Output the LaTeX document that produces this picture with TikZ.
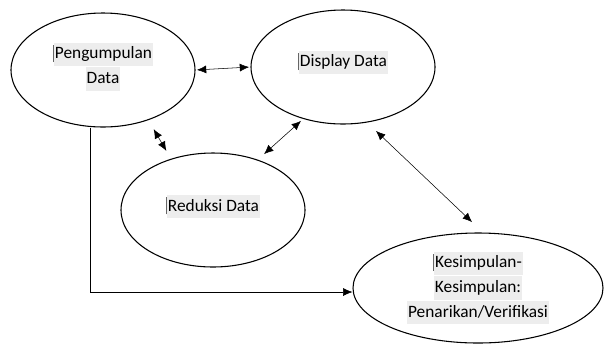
\documentclass[tikz,border=0pt]{standalone}
\usepackage{fontspec}
\setmainfont{Carlito}
\usetikzlibrary{shapes.geometric,arrows.meta}

\newcommand{\hl}[1]{{\setlength{\fboxsep}{0.5pt}\colorbox{gray!14}{\strut #1}}}
\newcommand{\cursor}{\textcolor{gray!80!black}{\rule[-2.5pt]{0.7pt}{13pt}}}

\begin{document}
\begin{tikzpicture}[x=0.75pt,y=-0.75pt,>={Latex[length=7pt,width=6pt]},
  stage/.style={ellipse,draw,thick,inner sep=0pt,align=center,
    minimum width=138pt,minimum height=85.5pt,font=\fontsize{13}{16.5}\selectfont},
  link/.style={<->,shorten >=1pt,shorten <=1pt}]
 \useasboundingbox (0,0) rectangle (605,344);
 \node[stage] (kumpul) at (103,70) {\cursor\hl{Pengumpulan}\\\hl{Data}\\[-6pt]};
 \node[stage] (display) at (343,67) {\cursor\hl{Display Data}\\[-4pt]};
 \node[stage] (reduksi) at (213,210) {\cursor\hl{Reduksi Data}\\[-6pt]};
 \node[stage,minimum width=187.5pt,minimum height=82.5pt] (simpul) at (478,288)
   {\cursor\hl{Kesimpulan-}\\\hl{Kesimpulan:}\\\hl{Penarikan/Verifikasi}};
 \coordinate (turn) at (90,292);
 % panah antar tahap
 \draw[link] (kumpul.east) -- (display.west);
 \draw[link,thin] (153,128) -- (167,152);
 \draw[link,thin] (263,155) -- (302,120);
 \draw[link,thin] (375,130) -- (473,223);
 \draw[->] (kumpul.south -| turn) -- (turn) -- (turn -| simpul.west);
\end{tikzpicture}
\end{document}
